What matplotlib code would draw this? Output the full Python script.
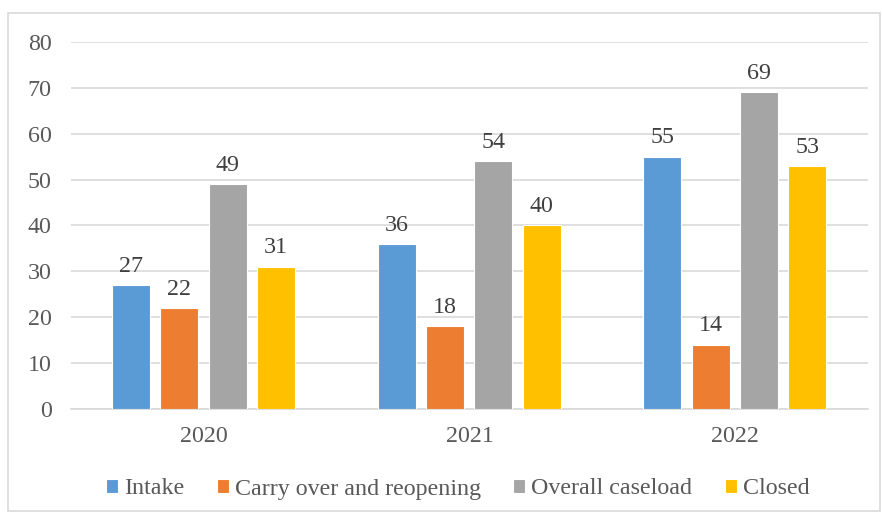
import matplotlib
matplotlib.use("Agg")
import matplotlib.pyplot as plt
import numpy as np
from matplotlib.patches import Rectangle

years = ["2020", "2021", "2022"]
series_names = ["Intake", "Carry over and reopening", "Overall caseload", "Closed"]
intake = [27, 36, 55]
carry_over = [22, 18, 14]
overall = [49, 54, 69]
closed = [31, 40, 53]
colors = ["#5B9BD5", "#ED7D31", "#A5A5A5", "#FFC000"]

plt.rcParams['font.family'] = ['Liberation Serif', 'DejaVu Serif']
txt = "#595959"
fs = 17.3

fig = plt.figure(figsize=(8.82, 5.16), dpi=100)
ax = fig.add_axes([71/882, 1 - 409/516, 797/882, 367/516])

x = np.arange(len(years))
width = 0.143
offsets = [-0.274, -0.092, 0.09, 0.272]
for vals, name, c, off in zip([intake, carry_over, overall, closed], series_names, colors, offsets):
    bars = ax.bar(x + off, vals, width, color=c, label=name, edgecolor='white', linewidth=0.8, zorder=3)
    for b, v in zip(bars, vals):
        ax.annotate(str(v), (b.get_x() + b.get_width() / 2, v), xytext=(0, 6),
                    textcoords='offset points', ha='center', va='bottom',
                    fontsize=fs, color="#404040")

ax.set_xlim(-0.5, 2.5)
ax.set_ylim(0, 80)
ax.set_yticks(range(0, 81, 10))
ax.set_xticks(x)
ax.set_xticklabels(years)
ax.yaxis.grid(True, color="#D9D9D9", linewidth=1.2, zorder=0)
for s in ["top", "right", "left"]:
    ax.spines[s].set_visible(False)
ax.spines["bottom"].set_color("#D9D9D9")
ax.spines["bottom"].set_linewidth(1.2)
ax.tick_params(axis='both', length=0, labelsize=fs, colors=txt)
ax.tick_params(axis='x', pad=12)
ax.tick_params(axis='y', pad=14)

leg = fig.legend(loc='center', bbox_to_anchor=(0.519, 1 - 489/516), ncol=4, frameon=False,
                 fontsize=fs, handlelength=0.5, handleheight=0.5, handletextpad=0.25,
                 columnspacing=1.35, labelcolor=txt)

fig.patches.append(Rectangle((8/882, 1 - 511/516), 872/882, 498/516, transform=fig.transFigure,
                             fill=False, edgecolor="#D9D9D9", linewidth=1.2))

fig.savefig("out.png", dpi=100)
